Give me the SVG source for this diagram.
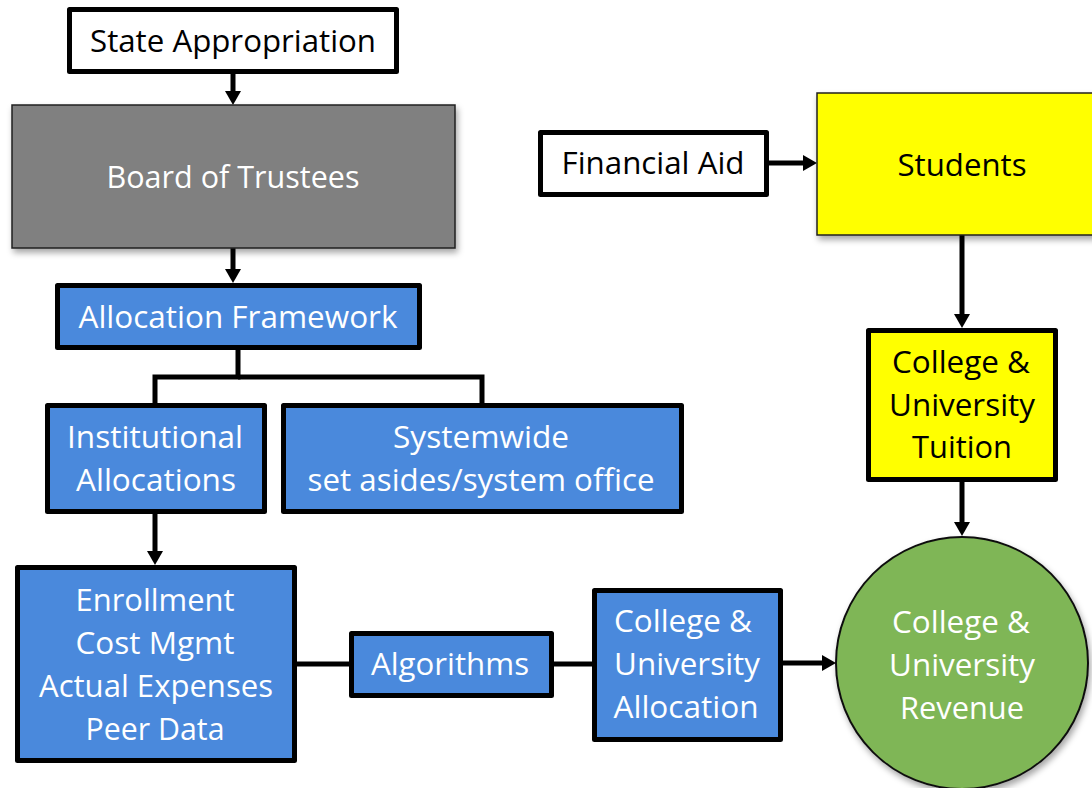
<svg xmlns="http://www.w3.org/2000/svg" width="1092" height="788" viewBox="0 0 1092 788">
<style>
.t{font-family:"Open Sans","Liberation Sans",sans-serif;font-size:31px;text-anchor:middle}
.w{fill:#ffffff}
.k{fill:#000000}
.thick{stroke:#000;stroke-width:5;stroke-linejoin:round}
.thin{stroke:#222;stroke-width:1.5}
.blue{fill:#4a89dc}
.yellow{fill:#ffff00}
.white{fill:#ffffff}
.gray{fill:#808080}
.green{fill:#7fb656}
.conn{stroke:#000;stroke-width:5;fill:none}
</style>
<defs>
<marker id="ah" viewBox="0 0 14 16" refX="1" refY="8" markerWidth="14" markerHeight="16" markerUnits="userSpaceOnUse" orient="auto">
<path d="M0,0 L14,8 L0,16 z" fill="#000"/>
</marker>
<filter id="sh" x="-10%" y="-10%" width="125%" height="125%">
<feDropShadow dx="2" dy="4" stdDeviation="3" flood-color="#000" flood-opacity="0.35"/>
</filter>
</defs>
<g id="connectors">
<line class="conn" x1="233" y1="74" x2="233" y2="92" marker-end="url(#ah)"/>
<line class="conn" x1="233" y1="248" x2="233" y2="270" marker-end="url(#ah)"/>
<polyline class="conn" points="238,349 238,377 155,377 155,404"/>
<polyline class="conn" points="238,377 482,377 482,404"/>
<line class="conn" x1="155" y1="513" x2="155" y2="552" marker-end="url(#ah)"/>
<line class="conn" x1="296" y1="664" x2="349" y2="664"/>
<line class="conn" x1="553" y1="664" x2="592" y2="664"/>
<line class="conn" x1="782" y1="663" x2="823" y2="663" marker-end="url(#ah)"/>
<line class="conn" x1="768" y1="163" x2="804" y2="163" marker-end="url(#ah)"/>
<line class="conn" x1="962" y1="235" x2="962" y2="315" marker-end="url(#ah)"/>
<line class="conn" x1="962" y1="481" x2="962" y2="523" marker-end="url(#ah)"/>
</g>
<g id="state-appropriation">
<rect class="white thick" x="69.5" y="9.5" width="327" height="62"/>
<text class="t k" x="233" y="52" textLength="286" lengthAdjust="spacingAndGlyphs">State Appropriation</text>
</g>
<g id="board-of-trustees">
<rect class="gray thin" x="12" y="105" width="443" height="143" filter="url(#sh)"/>
<text class="t w" x="233" y="188" textLength="253" lengthAdjust="spacingAndGlyphs">Board of Trustees</text>
</g>
<g id="allocation-framework">
<rect class="blue thick" x="57.5" y="285.5" width="362" height="62"/>
<text class="t w" x="238" y="328" textLength="319" lengthAdjust="spacingAndGlyphs">Allocation Framework</text>
</g>
<g id="institutional-allocations">
<rect class="blue thick" x="47.5" y="405.5" width="217" height="106"/>
<text class="t w" x="155" y="448" textLength="176" lengthAdjust="spacingAndGlyphs">Institutional</text>
<text class="t w" x="156" y="491" textLength="160" lengthAdjust="spacingAndGlyphs">Allocations</text>
</g>
<g id="systemwide">
<rect class="blue thick" x="283.5" y="405.5" width="398" height="106"/>
<text class="t w" x="481" y="448" textLength="176" lengthAdjust="spacingAndGlyphs">Systemwide</text>
<text class="t w" x="481" y="491" textLength="347" lengthAdjust="spacingAndGlyphs">set asides/system office</text>
</g>
<g id="enrollment">
<rect class="blue thick" x="17.5" y="567.5" width="277" height="193"/>
<text class="t w" x="155" y="611" textLength="159" lengthAdjust="spacingAndGlyphs">Enrollment</text>
<text class="t w" x="155" y="654" textLength="159" lengthAdjust="spacingAndGlyphs">Cost Mgmt</text>
<text class="t w" x="156" y="697" textLength="234" lengthAdjust="spacingAndGlyphs">Actual Expenses</text>
<text class="t w" x="155" y="740" textLength="139" lengthAdjust="spacingAndGlyphs">Peer Data</text>
</g>
<g id="algorithms">
<rect class="blue thick" x="351.5" y="633.5" width="200" height="62"/>
<text class="t w" x="450" y="675" textLength="158" lengthAdjust="spacingAndGlyphs">Algorithms</text>
</g>
<g id="cu-allocation">
<rect class="blue thick" x="594.5" y="590.5" width="186" height="149"/>
<text class="t w" x="683" y="632" textLength="138" lengthAdjust="spacingAndGlyphs">College &amp;</text>
<text class="t w" x="687" y="675" textLength="146" lengthAdjust="spacingAndGlyphs">University</text>
<text class="t w" x="686" y="718" textLength="145" lengthAdjust="spacingAndGlyphs">Allocation</text>
</g>
<g id="financial-aid">
<rect class="white thick" x="540.5" y="132.5" width="226" height="62"/>
<text class="t k" x="653" y="174" textLength="183" lengthAdjust="spacingAndGlyphs">Financial Aid</text>
</g>
<g id="students">
<rect class="yellow thin" x="817" y="93" width="292" height="142" filter="url(#sh)"/>
<text class="t k" x="962" y="176" textLength="129" lengthAdjust="spacingAndGlyphs">Students</text>
</g>
<g id="cu-tuition">
<rect class="yellow thick" x="868.5" y="330.5" width="187" height="149"/>
<text class="t k" x="961" y="373" textLength="138" lengthAdjust="spacingAndGlyphs">College &amp;</text>
<text class="t k" x="962" y="416" textLength="146" lengthAdjust="spacingAndGlyphs">University</text>
<text class="t k" x="962" y="458" textLength="100" lengthAdjust="spacingAndGlyphs">Tuition</text>
</g>
<g id="cu-revenue">
<circle class="green" cx="962" cy="663" r="126" stroke="#111" stroke-width="2" filter="url(#sh)"/>
<text class="t w" x="961" y="633" textLength="138" lengthAdjust="spacingAndGlyphs">College &amp;</text>
<text class="t w" x="962" y="676" textLength="146" lengthAdjust="spacingAndGlyphs">University</text>
<text class="t w" x="962" y="719" textLength="124" lengthAdjust="spacingAndGlyphs">Revenue</text>
</g>
</svg>
